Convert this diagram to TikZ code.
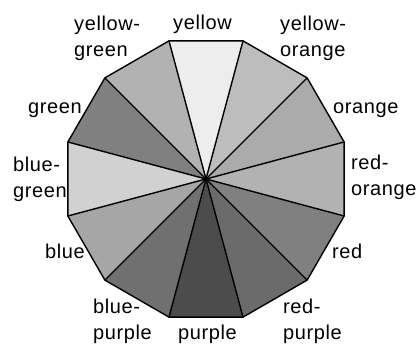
\documentclass[tikz,border=0pt]{standalone}
\usepackage{fontspec}
\setmainfont[LetterSpace=3]{Liberation Sans}
\usetikzlibrary{calc}

\begin{document}
\begin{tikzpicture}[x=1pt, y=1pt,
  wheel/.style={draw=black, line width=1.4pt, line join=miter},
  lbl/.style={anchor=base west, align=left, inner sep=0pt, font=\fontsize{20}{26}\selectfont}
]
\useasboundingbox (0,0) rectangle (418,347);
\coordinate (c) at (206,168);
\foreach \k in {0,...,11} \coordinate (v\k) at ($(c)+(15+30*\k:143)$);

\foreach \k/\g in {0/33, 1/26, 2/7, 3/30, 4/50, 5/18, 6/35, 7/56, 8/70, 9/58, 10/50, 11/30} {
  \pgfmathtruncatemacro\n{mod(\k+1,12)}
  \fill[black!\g] (c) -- (v\k) -- (v\n) -- cycle;
}
\foreach \k in {0,...,11} \draw[wheel] (c) -- (v\k);
\draw[wheel] (v0) -- (v1) -- (v2) -- (v3) -- (v4) -- (v5) -- (v6) -- (v7) -- (v8) -- (v9) -- (v10) -- (v11) -- cycle;
\fill (c) circle (2.5);

\node[lbl] (yellow) at (173,317) {yellow};
\node[lbl] (yellowgreen) at (74,290) {yellow-\\green};
\node[lbl] (yelloworange) at (280,290) {yellow-\\orange};
\node[lbl] (orange) at (333,233) {orange};
\node[lbl] (redorange) at (351,151) {red-\\orange};
\node[lbl] (red) at (332,88) {red};
\node[lbl] (redpurple) at (283,7) {red-\\purple};
\node[lbl] (purple) at (178,7) {purple};
\node[lbl] (bluepurple) at (93,7) {blue-\\purple};
\node[lbl] (blue) at (45,88) {blue};
\node[lbl] (bluegreen) at (13,149) {blue-\\green};
\node[lbl] (green) at (28,233) {green};
\end{tikzpicture}
\end{document}
